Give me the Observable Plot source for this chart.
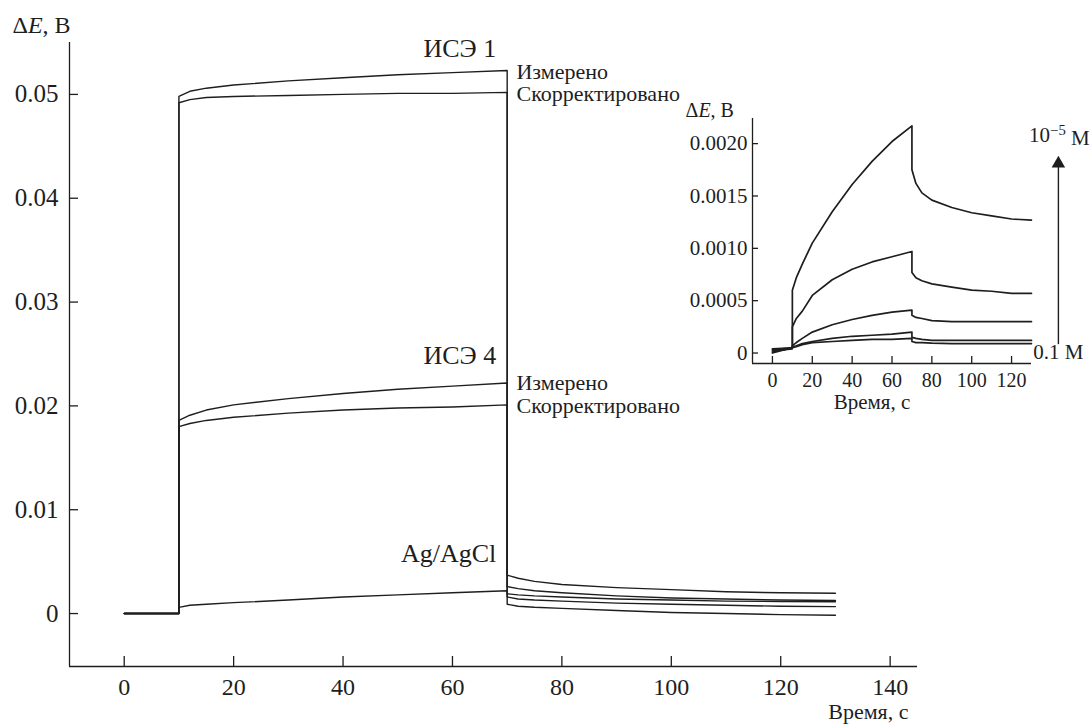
<!DOCTYPE html>
<html>
<head>
<meta charset="utf-8">
<script src="https://cdn.jsdelivr.net/npm/d3@7"></script>
<script src="https://cdn.jsdelivr.net/npm/@observablehq/plot@0.6"></script>
<style>
  html, body { margin: 0; padding: 0; background: #fff; }
  #wrap { position: relative; width: 1092px; height: 725px; }
  #wrap > svg { position: absolute; left: 0; top: 0; }
</style>
</head>
<body>
<div id="wrap"></div>
<script>
// ---------- main chart data ----------
const timeMain = [0, 10, 10, 12, 15, 20, 30, 40, 50, 60, 70, 70, 72, 75, 80, 90, 100, 110, 120, 130];
const ise1Measured  = [0, 0, 0.0498, 0.0503, 0.0506, 0.0509, 0.0513, 0.0516, 0.0519, 0.0521, 0.0523, 0.0037, 0.0034, 0.0031, 0.0028, 0.0025, 0.0023, 0.0021, 0.0020, 0.00196];
const ise1Corrected = [0, 0, 0.0492, 0.0495, 0.0497, 0.0498, 0.0499, 0.0500, 0.0501, 0.0501, 0.0502, 0.0016, 0.0014, 0.0013, 0.0012, 0.0010, 0.0009, 0.0008, 0.0007, 0.00067];
const ise4Measured  = [0, 0, 0.0186, 0.0191, 0.0196, 0.0201, 0.0207, 0.0212, 0.0216, 0.0219, 0.0222, 0.0026, 0.0024, 0.0022, 0.0020, 0.0017, 0.0015, 0.0014, 0.0013, 0.00125];
const ise4Corrected = [0, 0, 0.0180, 0.0183, 0.0186, 0.0189, 0.0193, 0.0196, 0.0198, 0.0199, 0.0201, 0.0009, 0.0007, 0.0006, 0.0005, 0.0003, 0.0001, 0.0000, -0.0001, -0.00016];
const agAgCl        = [0, 0, 0.0006, 0.0008, 0.0009, 0.00105, 0.0013, 0.0016, 0.0018, 0.0020, 0.0022, 0.0019, 0.0018, 0.0017, 0.0016, 0.0014, 0.0013, 0.0012, 0.00116, 0.00113];
const mainSeries = {"ИСЭ 1 измерено": ise1Measured, "ИСЭ 1 скорректировано": ise1Corrected,
  "ИСЭ 4 измерено": ise4Measured, "ИСЭ 4 скорректировано": ise4Corrected, "Ag/AgCl": agAgCl};
const mainXTicks = [0, 20, 40, 60, 80, 100, 120, 140];
const mainYTicks = [0, 0.01, 0.02, 0.03, 0.04, 0.05];
const mainXDomain = [-10, 145];
const mainYDomain = [-0.0051, 0.055];

// curve labels (data coordinates)
const endLabels = ["ИСЭ 1", "ИСЭ 4", "Ag/AgCl"];
const endLabelT = [68, 68, 68];
const endLabelV = [0.0544, 0.0248, 0.0058];
const sideLabels = ["Измерено", "Скорректировано", "Измерено", "Скорректировано"];
const sideLabelT = [71.7, 71.7, 71.7, 71.7];
const sideLabelV = [0.0522, 0.0500, 0.0222, 0.0200];

// ---------- inset data ----------
const timeInset = [0, 10, 10, 12, 15, 20, 30, 40, 50, 60, 70, 70, 72, 75, 80, 90, 100, 110, 120, 130];
const inset1e5 = [0.00004, 0.00005, 0.0006, 0.00072, 0.00085, 0.00105, 0.00135, 0.00161, 0.00183, 0.00202, 0.00217, 0.00175, 0.00162, 0.00153, 0.00146, 0.00139, 0.00134, 0.00131, 0.00128, 0.00127];
const inset1e4 = [0.00003, 0.00005, 0.00025, 0.00033, 0.0004, 0.00055, 0.0007, 0.0008, 0.00087, 0.00092, 0.00097, 0.00077, 0.00072, 0.00069, 0.00066, 0.00063, 0.0006, 0.00059, 0.00057, 0.00057];
const inset1e3 = [0.00001, 0.00005, 0.00007, 0.0001, 0.00014, 0.0002, 0.00027, 0.00032, 0.00036, 0.00039, 0.00041, 0.00036, 0.00034, 0.00033, 0.00031, 0.0003, 0.0003, 0.0003, 0.0003, 0.0003];
const inset1e2 = [0.0, 0.00005, 0.00006, 0.00007, 0.00009, 0.00011, 0.00014, 0.00016, 0.00017, 0.00018, 0.0002, 0.00015, 0.00014, 0.00013, 0.00012, 0.00012, 0.00012, 0.00012, 0.00012, 0.00012];
const inset1e1 = [0.00002, 0.00004, 0.00005, 0.00006, 0.00008, 0.0001, 0.00011, 0.00012, 0.00013, 0.00013, 0.00014, 0.00011, 0.0001, 0.0001, 0.000095, 0.00009, 0.00009, 0.00009, 0.00009, 0.00009];
const insetSeries = {"1e-5": inset1e5, "1e-4": inset1e4, "1e-3": inset1e3, "1e-2": inset1e2, "1e-1": inset1e1};
const insetXTicks = [0, 20, 40, 60, 80, 100, 120];
const insetYTicks = [0, 0.0005, 0.0010, 0.0015, 0.0020];
const insetXDomain = [-10, 130];
const insetYDomain = [-0.0001, 0.00224];
const arrowT = 143.5, arrowFrom = 0.00008, arrowTo = 0.00181;
const concLabels = ["10^-5 М", "0.1 М"];
const concLabelT = [144, 143.5];
const concLabelV = [0.00208, 0.000005];

// ---------- build rows ----------
function rows(times, series) {
  const out = [];
  for (const [name, vals] of Object.entries(series)) {
    vals.forEach((v, i) => out.push({series: name, t: times[i], v}));
  }
  return out;
}
const mainRows = rows(timeMain, mainSeries);
const insetRows = rows(timeInset, insetSeries);
const ink = "#1e1e1e";
const FONT = "Liberation Serif, Times New Roman, serif";

const main = Plot.plot({
  width: 1092, height: 725,
  marginLeft: 69, marginRight: 175, marginTop: 42, marginBottom: 59,
  x: {domain: mainXDomain},
  y: {domain: mainYDomain},
  style: {fontFamily: FONT, fontSize: "25px", color: ink, background: "white", overflow: "visible"},
  marks: [
    Plot.ruleX([mainXDomain[0]], {stroke: ink, strokeWidth: 1.3}),
    Plot.ruleY([mainYDomain[0]], {stroke: ink, strokeWidth: 1.3}),
    Plot.axisX({ticks: mainXTicks, tickSize: -10, tickPadding: 21, fontSize: 24, stroke: ink, strokeWidth: 1.3, label: null}),
    Plot.axisY({ticks: mainYTicks, tickSize: -9, tickPadding: 20, fontSize: 25, stroke: ink, strokeWidth: 1.3, label: null, tickFormat: d => d === 0 ? "0" : d3.format(".2f")(d)}),
    Plot.line(mainRows, {x: "t", y: "v", z: "series", stroke: ink, strokeWidth: 1.4}),
    Plot.text(endLabels, {x: (d, i) => endLabelT[i], y: (d, i) => endLabelV[i], text: d => d, textAnchor: "end", fontSize: 26, fill: ink}),
    Plot.text(sideLabels, {x: (d, i) => sideLabelT[i], y: (d, i) => sideLabelV[i], text: d => d, textAnchor: "start", fontSize: 22, fill: ink}),
    Plot.text(["ΔE, В"], {frameAnchor: "top-left", dx: -57, dy: -27, textAnchor: "start", fontSize: 24, fill: ink}),
    Plot.text(["Время, с"], {frameAnchor: "bottom-right", dx: -9, dy: 52, textAnchor: "end", fontSize: 22, fill: ink})
  ]
});

const inset = Plot.plot({
  width: 1092, height: 725,
  marginLeft: 752, marginRight: 61, marginTop: 118, marginBottom: 362,
  x: {domain: insetXDomain},
  y: {domain: insetYDomain},
  style: {fontFamily: FONT, fontSize: "21px", color: ink, background: "transparent", overflow: "visible"},
  marks: [
    Plot.ruleX([insetXDomain[0]], {stroke: ink, strokeWidth: 1.3}),
    Plot.ruleY([insetYDomain[0]], {stroke: ink, strokeWidth: 1.3}),
    Plot.axisX({ticks: insetXTicks, tickSize: -7, tickPadding: 16, fontSize: 20, stroke: ink, strokeWidth: 1.3, label: null}),
    Plot.axisY({ticks: insetYTicks, tickSize: -6, tickPadding: 11, fontSize: 21, stroke: ink, strokeWidth: 1.3, label: null, tickFormat: d => d === 0 ? "0" : d.toFixed(4)}),
    Plot.line(insetRows, {x: "t", y: "v", z: "series", stroke: ink, strokeWidth: 1.7}),
    Plot.ruleX([arrowT], {y1: arrowFrom, y2: arrowTo, stroke: ink, strokeWidth: 1.4, clip: false}),
    Plot.dot([arrowT], {x: d => d, y: arrowTo, symbol: "triangle", r: 5, fill: ink, stroke: null}),
    Plot.text(concLabels, {x: (d, i) => concLabelT[i], y: (d, i) => concLabelV[i], text: d => d, fontSize: 21, fill: ink}),
    Plot.text(["ΔE, В"], {frameAnchor: "top-left", dx: -67, dy: -16, textAnchor: "start", fontSize: 20, fill: ink}),
    Plot.text(["Время, с"], {frameAnchor: "bottom", dx: -20, dy: 45, fontSize: 21, fill: ink})
  ]
});

const wrap = document.getElementById("wrap");
wrap.appendChild(main);
wrap.appendChild(inset);

// typographic touches: italic E, superscript exponent
for (const svg of [main, inset]) {
  svg.querySelectorAll("text").forEach(t => {
    if (t.textContent === "ΔE, В") {
      t.innerHTML = 'Δ<tspan font-style="italic">E</tspan>, В';
    } else if (t.textContent === "10^-5 М") {
      t.innerHTML = '10<tspan dy="-0.45em" font-size="0.7em">−5</tspan><tspan dy="0.45em"> М</tspan>';
    }
  });
}
</script>
</body>
</html>
